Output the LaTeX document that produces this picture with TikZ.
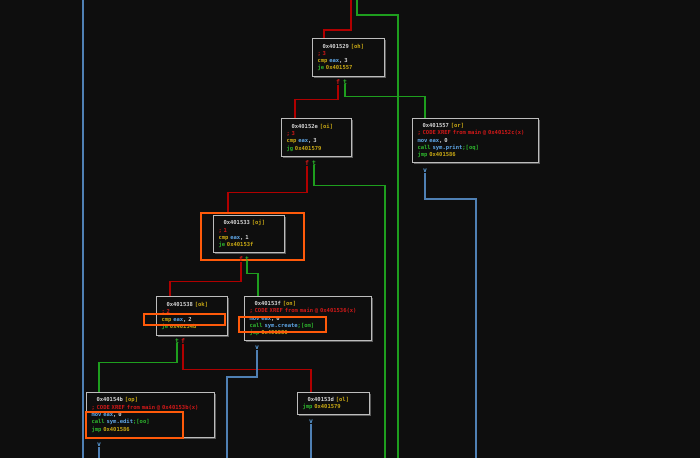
\documentclass[tikz,border=0pt]{standalone}
\usepackage{fontspec}
\newfontfamily\codefont{DejaVu Sans Mono}
\usepackage{tikz}
\usetikzlibrary{shadows}
\usepackage{xcolor}
\definecolor{bgc}{HTML}{0E0E0E}
\definecolor{boxline}{HTML}{BDBDBD}
\definecolor{boxshd}{HTML}{5A5A5A}
\definecolor{txtw}{HTML}{D4D4D4}
\definecolor{ylw}{HTML}{C8A814}
\definecolor{cmt}{HTML}{D01818}
\definecolor{grn}{HTML}{2DB42D}
\definecolor{blu}{HTML}{5FA6E6}
\definecolor{fline}{HTML}{B00000}
\definecolor{tline}{HTML}{1E9E1E}
\definecolor{bline}{HTML}{4F80B4}
\definecolor{hilite}{HTML}{FF5A0A}
\newcommand{\tylw}[1]{\textcolor{ylw}{#1}}
\newcommand{\tcmt}[1]{\textcolor{cmt}{\mbox{#1}}}
\newcommand{\tgrn}[1]{\textcolor{grn}{#1}}
\newcommand{\tblu}[1]{\textcolor{blu}{#1}}
\newcommand{\hdr}[2]{\hspace*{5pt}\mbox{#1 \tylw{[#2]}}}

\begin{document}
\begin{tikzpicture}[x=1pt,y=-1pt,
    blk/.style={draw=boxline, line width=1pt, fill=bgc, anchor=north west,
      inner xsep=5pt, inner ysep=0pt, align=left, text=txtw,
      font=\codefont\bfseries\fontsize{5.5}{7.3}\selectfont,
      drop shadow={shadow xshift=1.3pt, shadow yshift=-1.3pt, fill=boxshd, opacity=1}},
    hl/.style={draw=hilite, line width=1.5pt, anchor=north west, inner sep=0pt},
    flag/.style={inner sep=0pt, font=\codefont\bfseries\fontsize{6.5}{7}\selectfont},
    fedge/.style={fline, line width=1.1pt},
    tedge/.style={tline, line width=1.1pt},
    bedge/.style={bline, line width=1.1pt}]
  \useasboundingbox (0,0) rectangle (700,458);
  \fill[bgc] (0,0) rectangle (700,458);

  % blocks
  \node[blk, text width=62pt, minimum height=38pt] (oh) at (312,38)
    {\hdr{0x401529}{oh}\\\tcmt{; 3}\\\tylw{cmp} \tblu{eax}, 3\\\tgrn{je} \tylw{0x401557}};
  \node[blk, text width=60pt, minimum height=38pt] (oi) at (281,118)
    {\hdr{0x40152e}{oi}\\\tcmt{; 3}\\\tylw{cmp} \tblu{eax}, 3\\\tgrn{jg} \tylw{0x401579}};
  \node[blk, text width=116pt, minimum height=44pt] (or) at (412,118)
    {\hdr{0x401557}{or}\\\tcmt{; CODE XREF from main @ 0x40152c(x)}\\\tblu{mov eax}, 0\\\tgrn{call} \tblu{sym.print}\tgrn{;[oq]}\\\tgrn{jmp} \tylw{0x401586}};
  \node[blk, text width=61pt, minimum height=37pt] (oj) at (213,215)
    {\hdr{0x401533}{oj}\\\tcmt{; 1}\\\tylw{cmp} \tblu{eax}, 1\\\tgrn{je} \tylw{0x40153f}};
  \node[blk, text width=61pt, minimum height=39pt] (ok) at (156,296)
    {\hdr{0x401538}{ok}\\\tcmt{; 2}\\\tylw{cmp} \tblu{eax}, 2\\\tgrn{je} \tylw{0x40154b}};
  \node[blk, text width=117pt, minimum height=44pt] (on) at (244,296)
    {\hdr{0x40153f}{on}\\\tcmt{; CODE XREF from main @ 0x401536(x)}\\\tblu{mov eax}, 0\\\tgrn{call} \tblu{sym.create}\tgrn{;[om]}\\\tgrn{jmp} \tylw{0x401586}};
  \node[blk, text width=118pt, minimum height=45pt] (op) at (86,392)
    {\hdr{0x40154b}{op}\\\tcmt{; CODE XREF from main @ 0x40153b(x)}\\\tblu{mov eax}, 0\\\tgrn{call} \tblu{sym.edit}\tgrn{;[oo]}\\\tgrn{jmp} \tylw{0x401586}};
  \node[blk, text width=62pt, minimum height=22pt] (ol) at (297,392)
    {\hdr{0x40153d}{ol}\\\tgrn{jmp} \tylw{0x401579}};

  % highlights
  \node[hl, minimum width=103pt, minimum height=47pt] (hlOj) at (200,212) {};
  \node[hl, minimum width=81pt, minimum height=11pt] (hlOk) at (143,313) {};
  \node[hl, minimum width=87pt, minimum height=15pt] (hlOn) at (238,316) {};
  \node[hl, minimum width=97pt, minimum height=26pt] (hlOp) at (85,411) {};

  % branch flags
  \node[flag, cmt] (ohF) at (338,82) {f};
  \node[flag, grn] (ohT) at (345,82) {t};
  \node[flag, cmt] (oiF) at (307,163) {f};
  \node[flag, grn] (oiT) at (314,163) {t};
  \node[flag, blu] (orV) at (425,171) {v};
  \node[flag, cmt] (ojF) at (241,259) {f};
  \node[flag, grn] (ojT) at (247,259) {t};
  \node[flag, grn] (okT) at (177,341) {t};
  \node[flag, cmt] (okF) at (183,341) {f};
  \node[flag, blu] (onV) at (257,348) {v};
  \node[flag, blu] (opV) at (99,445) {v};
  \node[flag, blu] (olV) at (311,422) {v};

  % ends off the picture
  \coordinate (topB) at (83,0);
  \coordinate (botB0) at (83,458);
  \coordinate (topR) at (351,0);
  \coordinate (topG) at (357,0);
  \coordinate (botG1) at (385,458);
  \coordinate (botG2) at (398,458);
  \coordinate (botB1) at (99,458);
  \coordinate (botB2) at (227,458);
  \coordinate (botB3) at (311,458);
  \coordinate (botB4) at (476,458);

  % edges
  \draw[bedge] (topB) -- (botB0);
  \draw[fedge] (topR) -- ++(0,30) -| ([xshift=12pt]oh.north west);
  \draw[tedge] (topG) -- ++(0,15) -| (botG2);
  \draw[fedge] (ohF.south) -- ++(0,15) -| ([xshift=14pt]oi.north west);
  \draw[tedge] (ohT.south) -- ++(0,12) -| ([xshift=13pt]or.north west);
  \draw[fedge] (oiF.south) -- ++(0,27) -| ([xshift=28pt]hlOj.north west);
  \draw[tedge] (oiT.south) -- ++(0,20) -| (botG1);
  \draw[bedge] (orV.south) -- ++(0,26) -| (botB4);
  \draw[fedge] (ojF.south) -- ++(0,20) -| ([xshift=14pt]ok.north west);
  \draw[tedge] (ojT.south) -- ++(0,12) -| ([xshift=14pt]on.north west);
  \draw[tedge] (okT.south) -- ++(0,19) -| ([xshift=13pt]op.north west);
  \draw[fedge] (okF.south) -- ++(0,26) -| ([xshift=14pt]ol.north west);
  \draw[bedge] (onV.south) -- ++(0,27) -| (botB2);
  \draw[bedge] (opV.south) -- (botB1);
  \draw[bedge] (olV.south) -- (botB3);
\end{tikzpicture}
\end{document}
